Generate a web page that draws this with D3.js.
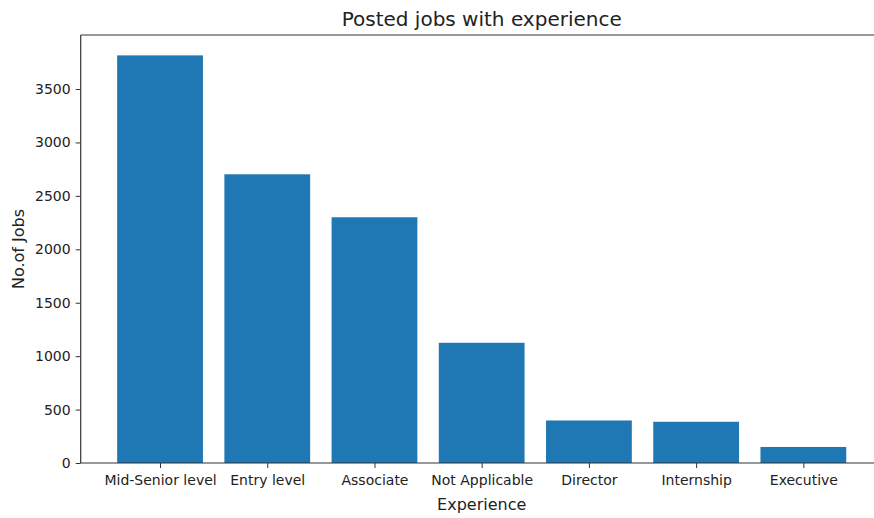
<!DOCTYPE html>
<html lang="en">
  <head>
    <meta charset="UTF-8" />
    <title>Posted jobs with experience</title>
    <style>
      body { margin: 0; background: #fff; }
      text { font-family: "DejaVu Sans", sans-serif; fill: #222; }
    </style>
  </head>
  <body>
    <svg id="svg" width="874" height="518"></svg>

    <script src="https://cdn.jsdelivr.net/npm/d3@7"></script>
    <script>
      const WIDTH = 874;
      const HEIGHT = 518;

      const categories = [
        "Mid-Senior level",
        "Entry level",
        "Associate",
        "Not Applicable",
        "Director",
        "Internship",
        "Executive",
      ];
      const jobCounts = [3815, 2702, 2300, 1125, 398, 386, 150];
      const yTicks = [0, 500, 1000, 1500, 2000, 2500, 3000, 3500];

      // axes box (right spine falls outside the picture)
      const AX_LEFT = 80.7;
      const AX_RIGHT = 882.7;
      const AX_TOP = 35;
      const AX_BOTTOM = 463;

      // matplotlib-like bar layout: width 0.8, 5% margins
      const xScale = d3
        .scaleLinear()
        .domain([-0.74, categories.length - 1 + 0.74])
        .range([AX_LEFT, AX_RIGHT]);

      const yMax = d3.max(jobCounts) * 1.05;
      const yScale = d3.scaleLinear().domain([0, yMax]).range([AX_BOTTOM, AX_TOP]);

      const svg = d3.select("#svg");

      svg
        .append("g")
        .selectAll("rect")
        .data(jobCounts)
        .enter()
        .append("rect")
        .attr("x", (d, i) => xScale(i - 0.4))
        .attr("width", xScale(0.8) - xScale(0))
        .attr("y", (d) => yScale(d))
        .attr("height", (d) => yScale(0) - yScale(d))
        .attr("fill", "#1f77b4");

      // spines
      const spines = svg.append("g").attr("stroke", "#333").attr("stroke-width", 1.2);
      spines.append("line").attr("x1", AX_LEFT).attr("x2", AX_LEFT).attr("y1", AX_TOP).attr("y2", AX_BOTTOM);
      spines.append("line").attr("x1", AX_LEFT).attr("x2", AX_RIGHT).attr("y1", AX_BOTTOM).attr("y2", AX_BOTTOM);
      spines.append("line").attr("x1", AX_LEFT).attr("x2", AX_RIGHT).attr("y1", AX_TOP).attr("y2", AX_TOP);
      spines.append("line").attr("x1", AX_RIGHT).attr("x2", AX_RIGHT).attr("y1", AX_TOP).attr("y2", AX_BOTTOM);

      const leftAxis = d3
        .axisLeft(yScale)
        .tickValues(yTicks)
        .tickFormat(d3.format("d"))
        .tickSize(5)
        .tickPadding(5);
      const gy = svg.append("g").attr("transform", `translate(${AX_LEFT}, 0)`).call(leftAxis);
      gy.select(".domain").remove();
      gy.selectAll("line").attr("stroke", "#333");
      gy.selectAll("text").attr("font-size", 14).attr("font-family", "DejaVu Sans").attr("fill", "#222");

      const bottomAxis = d3
        .axisBottom(xScale)
        .tickValues(d3.range(categories.length))
        .tickFormat((i) => categories[i])
        .tickSize(5)
        .tickPadding(7);
      const gx = svg.append("g").attr("transform", `translate(0, ${AX_BOTTOM})`).call(bottomAxis);
      gx.select(".domain").remove();
      gx.selectAll("line").attr("stroke", "#333");
      gx.selectAll("text").attr("font-size", 14).attr("font-family", "DejaVu Sans").attr("fill", "#222");

      svg
        .append("text")
        .attr("x", (AX_LEFT + AX_RIGHT) / 2)
        .attr("y", 26)
        .attr("text-anchor", "middle")
        .attr("font-size", 20)
        .text("Posted jobs with experience");

      svg
        .append("text")
        .attr("x", (AX_LEFT + AX_RIGHT) / 2)
        .attr("y", 510)
        .attr("text-anchor", "middle")
        .attr("font-size", 16)
        .text("Experience");

      svg
        .append("text")
        .attr("transform", `translate(24, ${(AX_TOP + AX_BOTTOM) / 2}) rotate(-90)`)
        .attr("text-anchor", "middle")
        .attr("font-size", 16)
        .text("No.of Jobs");
    </script>
  </body>
</html>
